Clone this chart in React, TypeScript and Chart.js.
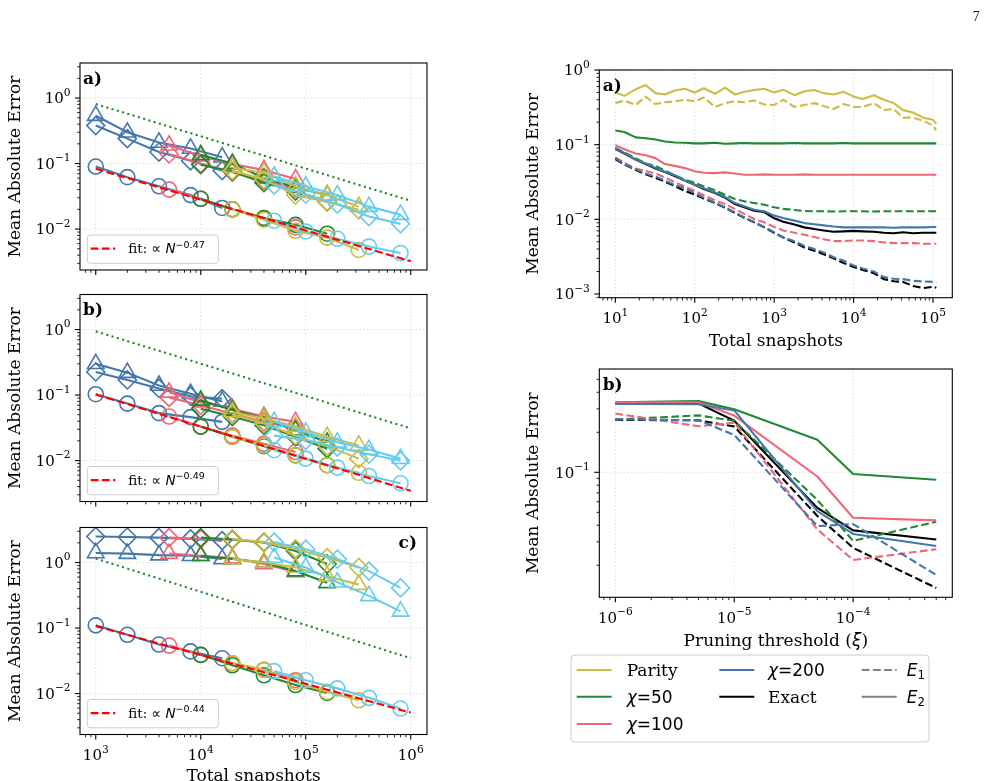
import React, { useEffect, useRef } from "react";
import { Chart, registerables } from "chart.js";

Chart.register(...registerables);

const W = 989;
const H = 781;
const SERIF = '"DejaVu Serif", serif';
const SANS = '"DejaVu Sans", sans-serif';

const BLUE = "#4477AA";
const PINK = "#EE6677";
const GREEN = "#228833";
const YELLOW = "#CCBB44";
const CYAN = "#66CCEE";
const BLACK = "#000000";
const GREY = "#808080";
const FIT_RED = "#FF0000";
const REF_GREEN = "#1E8A2A";

// ---------- Left column: error vs. total snapshots ----------
const nBlue = [1000, 2000, 4000, 8000, 16000];
const nPink = [5000, 10000, 20000, 40000, 80000];
const nGreen = [10000, 20000, 40000, 80000, 160000];
const nYellow = [20000, 40000, 80000, 160000, 320000];
const nCyan = [50000, 100000, 200000, 400000, 800000];
const refN = [1000, 1000000];

// panel a
const aBlueCirc = [0.09, 0.062, 0.045, 0.033, 0.021];
const aBlueTri = [0.54, 0.3, 0.21, 0.17, 0.125];
const aBlueDia = [0.38, 0.24, 0.15, 0.11, 0.078];
const aPinkCirc = [0.04, 0.029, 0.02, 0.0147, 0.0106];
const aPinkTri = [0.19, 0.13, 0.098, 0.08, 0.058];
const aPinkDia = [0.14, 0.1, 0.074, 0.055, 0.042];
const aGreenCirc = [0.029, 0.02, 0.0147, 0.0116, 0.0085];
const aGreenTri = [0.136, 0.1, 0.06, 0.043, 0.033];
const aGreenDia = [0.096, 0.075, 0.051, 0.038, 0.026];
const aYellowCirc = [0.02, 0.0139, 0.0094, 0.0074, 0.0048];
const aYellowTri = [0.087, 0.072, 0.045, 0.033, 0.022];
const aYellowDia = [0.078, 0.057, 0.033, 0.026, 0.0197];
const aCyanCirc = [0.0134, 0.0092, 0.0071, 0.0054, 0.0043];
const aCyanTri = [0.064, 0.045, 0.033, 0.022, 0.0166];
const aCyanDia = [0.047, 0.034, 0.024, 0.0155, 0.012];
const aRef = [0.81, 0.027];
const aFitStart = 0.083;
const aFitExp = -0.47;

// panel b
const bBlueCirc = [0.103, 0.074, 0.053, 0.046, 0.039];
const bBlueTri = [0.3, 0.22, 0.14, 0.105, 0.08];
const bBlueDia = [0.225, 0.17, 0.126, 0.096, 0.088];
const bPinkCirc = [0.047, 0.033, 0.024, 0.018, 0.0135];
const bPinkTri = [0.11, 0.078, 0.062, 0.047, 0.039];
const bPinkDia = [0.092, 0.07, 0.052, 0.039, 0.031];
const bGreenCirc = [0.033, 0.023, 0.0166, 0.012, 0.0085];
const bGreenTri = [0.083, 0.059, 0.044, 0.029, 0.019];
const bGreenDia = [0.062, 0.047, 0.0346, 0.023, 0.0152];
const bYellowCirc = [0.023, 0.017, 0.012, 0.0085, 0.0065];
const bYellowTri = [0.055, 0.044, 0.033, 0.023, 0.017];
const bYellowDia = [0.051, 0.037, 0.024, 0.0166, 0.0107];
const bCyanCirc = [0.0144, 0.0107, 0.0078, 0.0058, 0.0045];
const bCyanTri = [0.039, 0.027, 0.019, 0.0147, 0.0107];
const bCyanDia = [0.024, 0.0204, 0.016, 0.0125, 0.0099];
const bRef = [0.94, 0.031];
const bFitStart = 0.102;
const bFitExp = -0.49;

// panel c
const cBlueCirc = [0.11, 0.079, 0.056, 0.044, 0.0346];
const cBlueTri = [1.4, 1.37, 1.3, 1.27, 1.13];
const cBlueDia = [2.5, 2.45, 2.4, 2.3, 2.16];
const cPinkCirc = [0.054, 0.039, 0.029, 0.023, 0.016];
const cPinkTri = [1.37, 1.27, 1.17, 0.95, 0.72];
const cPinkDia = [2.4, 2.3, 2.25, 2.03, 1.6];
const cGreenCirc = [0.039, 0.027, 0.019, 0.0135, 0.0102];
const cGreenTri = [1.27, 1.13, 1.0, 0.74, 0.49];
const cGreenDia = [2.4, 2.25, 2.03, 1.5, 0.95];
const cYellowCirc = [0.029, 0.023, 0.015, 0.0106, 0.0079];
const cYellowTri = [1.13, 1.0, 0.84, 0.62, 0.46];
const cYellowDia = [2.3, 2.05, 1.6, 1.19, 0.84];
const cCyanCirc = [0.022, 0.016, 0.012, 0.0086, 0.0059];
const cCyanTri = [1.19, 0.84, 0.5, 0.31, 0.18];
const cCyanDia = [2.05, 1.6, 1.13, 0.74, 0.41];
const cRef = [1.15, 0.0346];
const cFitStart = 0.107;
const cFitExp = -0.44;

// ---------- Right column a: error vs. total snapshots per method ----------
const snapshots = [
  10, 13, 18, 24, 32, 42, 56, 75, 100, 130, 180, 240, 320, 420, 560, 750,
  1000, 1300, 1800, 2400, 3200, 4200, 5600, 7500, 10000, 13000, 18000, 24000,
  32000, 42000, 56000, 75000, 100000, 110000,
];
const parityE2 = [
  0.5, 0.45, 0.55, 0.63, 0.49, 0.47, 0.53, 0.56, 0.5, 0.57, 0.48, 0.58, 0.47, 0.51, 0.54, 0.56,
  0.5, 0.545, 0.46, 0.52, 0.54, 0.49, 0.47, 0.51, 0.44, 0.41, 0.46, 0.4, 0.36, 0.29, 0.27, 0.23,
  0.215, 0.19,
];
const parityE1 = [
  0.36, 0.39, 0.34, 0.44, 0.35, 0.37, 0.38, 0.4, 0.38, 0.43, 0.32, 0.36, 0.38, 0.37, 0.39, 0.345,
  0.34, 0.4, 0.32, 0.34, 0.36, 0.33, 0.3, 0.35, 0.32, 0.32, 0.36, 0.29, 0.3, 0.23, 0.23, 0.21,
  0.18, 0.155,
];
const chi50E2 = [
  0.155, 0.148, 0.125, 0.122, 0.117, 0.11, 0.107, 0.106, 0.104, 0.104, 0.106, 0.103, 0.104, 0.105, 0.104, 0.104,
  0.104, 0.104, 0.105, 0.104, 0.104, 0.104, 0.104, 0.105, 0.104, 0.104, 0.104, 0.104, 0.104, 0.104, 0.104, 0.104,
  0.104, 0.104,
];
const chi50E1 = [
  0.09, 0.079, 0.066, 0.056, 0.052, 0.045, 0.039, 0.034, 0.031, 0.0276, 0.0245, 0.0213, 0.0187, 0.0174, 0.0165, 0.0157,
  0.0145, 0.0138, 0.0133, 0.0129, 0.0128, 0.0128, 0.0127, 0.0128, 0.0128, 0.0128, 0.0127, 0.0128, 0.0128, 0.0128, 0.0128, 0.0128,
  0.0128, 0.0128,
];
const chi100E2 = [
  0.098, 0.087, 0.076, 0.072, 0.066, 0.055, 0.052, 0.0485, 0.044, 0.042, 0.0415, 0.0425, 0.041, 0.0395, 0.0395, 0.04,
  0.0395, 0.0395, 0.0395, 0.04, 0.0395, 0.0395, 0.0395, 0.0395, 0.0395, 0.0395, 0.0395, 0.0395, 0.0395, 0.0395, 0.0395, 0.0395,
  0.0395, 0.0395,
];
const chi100E1 = [
  0.0675, 0.057, 0.048, 0.0445, 0.041, 0.0365, 0.0315, 0.0275, 0.024, 0.021, 0.018, 0.016, 0.0138, 0.0118, 0.0101, 0.0091,
  0.0079, 0.0071, 0.0066, 0.0062, 0.0058, 0.0054, 0.0051, 0.0051, 0.0052, 0.0052, 0.0051, 0.0049, 0.0048, 0.0048, 0.0048, 0.0047,
  0.0047, 0.0047,
];
const chi200E2 = [
  0.09, 0.077, 0.063, 0.056, 0.049, 0.043, 0.039, 0.033, 0.029, 0.026, 0.0228, 0.02, 0.0165, 0.015, 0.0134, 0.0128,
  0.0112, 0.0104, 0.0096, 0.0089, 0.0086, 0.0083, 0.008, 0.0078, 0.0078, 0.0078, 0.0078, 0.0078, 0.0077, 0.0078, 0.0078, 0.0078,
  0.0079, 0.0079,
];
const chi200E1 = [
  0.066, 0.055, 0.047, 0.041, 0.0375, 0.033, 0.029, 0.026, 0.0225, 0.0195, 0.0168, 0.0145, 0.0124, 0.0106, 0.0092, 0.0079,
  0.0067, 0.0057, 0.0051, 0.0044, 0.004, 0.0036, 0.0031, 0.0028, 0.0024, 0.0022, 0.002, 0.00168, 0.0016, 0.00158, 0.0015, 0.00147,
  0.00145, 0.00143,
];
const exactE2 = [
  0.088, 0.076, 0.063, 0.055, 0.048, 0.043, 0.038, 0.033, 0.029, 0.0255, 0.0225, 0.0195, 0.016, 0.0145, 0.013, 0.0125,
  0.0103, 0.0093, 0.0085, 0.0078, 0.0074, 0.0071, 0.0068, 0.0069, 0.007, 0.0069, 0.0068, 0.0066, 0.0065, 0.0067, 0.0065, 0.0066,
  0.0066, 0.0066,
];
const exactE1 = [
  0.064, 0.054, 0.046, 0.04, 0.036, 0.032, 0.028, 0.024, 0.0215, 0.019, 0.0165, 0.0143, 0.0122, 0.0105, 0.0091, 0.0078,
  0.0066, 0.0057, 0.0049, 0.0042, 0.0038, 0.0034, 0.003, 0.0026, 0.0023, 0.0021, 0.0019, 0.00158, 0.00148, 0.00145, 0.00128, 0.0012,
  0.00125, 0.00121,
];

// ---------- Right column b: error vs. pruning threshold ----------
const thresholds = [1e-6, 5e-6, 1e-5, 5e-5, 1e-4, 5e-4];
const pruneChi50E2 = [0.336, 0.343, 0.298, 0.176, 0.097, 0.088];
const pruneChi100E2 = [0.336, 0.336, 0.267, 0.093, 0.0455, 0.0435];
const pruneChi200E2 = [0.326, 0.325, 0.292, 0.051, 0.0344, 0.0279];
const pruneExactE2 = [0.33, 0.33, 0.244, 0.054, 0.0366, 0.0312];
const pruneChi50E1 = [0.249, 0.268, 0.244, 0.062, 0.0305, 0.0425];
const pruneChi100E1 = [0.277, 0.222, 0.236, 0.0372, 0.0219, 0.0264];
const pruneChi200E1 = [0.251, 0.246, 0.191, 0.0394, 0.0408, 0.0169];
const pruneExactE1 = [0.248, 0.246, 0.221, 0.047, 0.027, 0.0135];

// ---------- drawing helpers ----------
type Run = { t: string; f: string; dy?: number };
type Area = { left: number; top: number; right: number; bottom: number };

function runsWidth(ctx: CanvasRenderingContext2D, runs: Run[]) {
  let w = 0;
  for (const r of runs) {
    ctx.font = r.f;
    w += ctx.measureText(r.t).width;
  }
  return w;
}

function drawRuns(ctx: CanvasRenderingContext2D, runs: Run[], x: number, y: number, align: "left" | "center" | "right") {
  const w = runsWidth(ctx, runs);
  let cx = align === "left" ? x : align === "center" ? x - w / 2 : x - w;
  ctx.textAlign = "left";
  ctx.textBaseline = "alphabetic";
  for (const r of runs) {
    ctx.font = r.f;
    ctx.fillText(r.t, cx, y + (r.dy || 0));
    cx += ctx.measureText(r.t).width;
  }
}

const TICK_FONT = `15px ${SERIF}`;
const SUP_FONT = `10.6px ${SERIF}`;
function powerRuns(e: number): Run[] {
  return [
    { t: "10", f: TICK_FONT },
    { t: e < 0 ? "\u2212" + String(-e) : String(e), f: SUP_FONT, dy: -7.5 },
  ];
}

function logTicks(min: number, max: number) {
  const major: { v: number; e: number }[] = [];
  const minor: number[] = [];
  const e0 = Math.floor(Math.log10(min));
  const e1 = Math.ceil(Math.log10(max));
  for (let e = e0; e <= e1; e++) {
    for (let m = 1; m < 10; m++) {
      const v = m * Math.pow(10, e);
      if (v < min * 0.99999 || v > max * 1.00001) continue;
      if (m === 1) major.push({ v, e });
      else minor.push(v);
    }
  }
  return { major, minor };
}

function seg(ctx: CanvasRenderingContext2D, x1: number, y1: number, x2: number, y2: number) {
  ctx.beginPath();
  ctx.moveTo(x1, y1);
  ctx.lineTo(x2, y2);
  ctx.stroke();
}

function roundBox(ctx: CanvasRenderingContext2D, x: number, y: number, w: number, h: number, r: number) {
  ctx.beginPath();
  ctx.moveTo(x + r, y);
  ctx.lineTo(x + w - r, y);
  ctx.arcTo(x + w, y, x + w, y + r, r);
  ctx.lineTo(x + w, y + h - r);
  ctx.arcTo(x + w, y + h, x + w - r, y + h, r);
  ctx.lineTo(x + r, y + h);
  ctx.arcTo(x, y + h, x, y + h - r, r);
  ctx.lineTo(x, y + r);
  ctx.arcTo(x, y, x + r, y, r);
  ctx.closePath();
  ctx.fillStyle = "rgba(255,255,255,0.85)";
  ctx.fill();
  ctx.strokeStyle = "#cccccc";
  ctx.lineWidth = 1;
  ctx.setLineDash([]);
  ctx.stroke();
}

const DASH = [7.8, 3.4];

interface Spec {
  area: Area;
  xMin: number;
  xMax: number;
  yMin: number;
  yMax: number;
  xTickLabels: boolean;
  xTitle?: Run[];
  xTitleBaseline?: number;
  yTitleX: number;
  tag: string;
  tagX: number;
  tagAlign: "left" | "right";
  datasets: any[];
  overlay?: (ctx: CanvasRenderingContext2D, area: Area) => void;
}

function axesPlugin(spec: Spec) {
  return {
    id: "axesDecor",
    beforeDatasetsDraw(chart: any) {
      const ctx: CanvasRenderingContext2D = chart.ctx;
      const xs = chart.scales.x;
      const ys = chart.scales.y;
      const a = chart.chartArea;
      ctx.save();
      ctx.strokeStyle = "rgba(0,0,0,0.16)";
      ctx.lineWidth = 1;
      ctx.setLineDash([1.2, 2.3]);
      for (const t of logTicks(spec.xMin, spec.xMax).major) {
        const px = xs.getPixelForValue(t.v);
        seg(ctx, px, a.top, px, a.bottom);
      }
      for (const t of logTicks(spec.yMin, spec.yMax).major) {
        const py = ys.getPixelForValue(t.v);
        seg(ctx, a.left, py, a.right, py);
      }
      ctx.restore();
    },
    afterDraw(chart: any) {
      const ctx: CanvasRenderingContext2D = chart.ctx;
      const xs = chart.scales.x;
      const ys = chart.scales.y;
      const a = chart.chartArea;
      ctx.save();
      ctx.setLineDash([]);
      ctx.strokeStyle = "#000";
      ctx.lineWidth = 1.1;
      ctx.strokeRect(a.left, a.top, a.right - a.left, a.bottom - a.top);

      const xt = logTicks(spec.xMin, spec.xMax);
      const yt = logTicks(spec.yMin, spec.yMax);
      ctx.lineWidth = 1.1;
      for (const t of xt.major) {
        const px = xs.getPixelForValue(t.v);
        seg(ctx, px, a.bottom, px, a.bottom + 5);
      }
      for (const t of yt.major) {
        const py = ys.getPixelForValue(t.v);
        seg(ctx, a.left, py, a.left - 5, py);
      }
      ctx.lineWidth = 0.85;
      for (const v of xt.minor) {
        const px = xs.getPixelForValue(v);
        seg(ctx, px, a.bottom, px, a.bottom + 2.8);
      }
      for (const v of yt.minor) {
        const py = ys.getPixelForValue(v);
        seg(ctx, a.left, py, a.left - 2.8, py);
      }

      ctx.fillStyle = "#000";
      for (const t of yt.major) {
        const py = ys.getPixelForValue(t.v);
        drawRuns(ctx, powerRuns(t.e), a.left - 9.5, py + 5.4, "right");
      }
      if (spec.xTickLabels) {
        for (const t of xt.major) {
          const px = xs.getPixelForValue(t.v);
          drawRuns(ctx, powerRuns(t.e), px, a.bottom + 25.5, "center");
        }
      }

      // y title
      ctx.save();
      ctx.translate(spec.yTitleX, (a.top + a.bottom) / 2);
      ctx.rotate(-Math.PI / 2);
      ctx.font = `17px ${SERIF}`;
      ctx.textAlign = "center";
      ctx.textBaseline = "alphabetic";
      ctx.fillText("Mean Absolute Error", 0, 0);
      ctx.restore();

      if (spec.xTitle && spec.xTitleBaseline !== undefined) {
        drawRuns(ctx, spec.xTitle, (a.left + a.right) / 2, spec.xTitleBaseline, "center");
      }

      ctx.font = `bold 17px ${SERIF}`;
      ctx.textAlign = spec.tagAlign;
      ctx.textBaseline = "alphabetic";
      ctx.fillText(spec.tag, spec.tagX, a.top + 20.5);

      if (spec.overlay) spec.overlay(ctx, a);
      ctx.restore();
    },
  };
}

// ---------- dataset builders ----------
const MARKER_RADIUS: Record<string, number> = { circle: 7.5, triangle: 9.5, rectRot: 9 };

function sweep(n: number[], v: number[], color: string, marker: string) {
  return {
    data: n.map((x, i) => ({ x, y: v[i] })),
    borderColor: color,
    borderWidth: 2.1,
    pointStyle: marker,
    pointRadius: MARKER_RADIUS[marker],
    pointBorderColor: color,
    pointBackgroundColor: "rgba(0,0,0,0)",
    pointBorderWidth: 1.6,
  };
}

function scalingDatasets(
  groups: { n: number[]; circ: number[]; tri: number[]; dia: number[]; color: string }[],
  ref: number[],
  fitStart: number,
  fitExp: number
) {
  const list: any[] = [];
  list.push({
    data: refN.map((x, i) => ({ x, y: ref[i] })),
    borderColor: REF_GREEN,
    borderWidth: 2.1,
    borderDash: [2.1, 3.4],
    borderCapStyle: "butt",
    pointRadius: 0,
  });
  for (const g of groups) {
    list.push(sweep(g.n, g.circ, g.color, "circle"));
    list.push(sweep(g.n, g.tri, g.color, "triangle"));
    list.push(sweep(g.n, g.dia, g.color, "rectRot"));
  }
  list.push({
    data: refN.map((x) => ({ x, y: fitStart * Math.pow(x / refN[0], fitExp) })),
    borderColor: FIT_RED,
    borderWidth: 2.1,
    borderDash: DASH,
    pointRadius: 0,
  });
  // first dataset is painted last in Chart.js, so reverse to keep plotting order
  return list.reverse();
}

function curve(n: number[], v: number[], color: string, dashed: boolean) {
  return {
    data: n.map((x, i) => ({ x, y: v[i] })),
    borderColor: color,
    borderWidth: 2.1,
    borderDash: dashed ? DASH : [],
    borderJoinStyle: "round",
    pointRadius: 0,
  };
}

function fitLegend(exp: number) {
  return (ctx: CanvasRenderingContext2D, a: Area) => {
    const x0 = a.left + 7.3;
    const h = 28.3;
    const y0 = a.bottom - 6.7 - h;
    roundBox(ctx, x0, y0, 131, h, 3);
    const cy = y0 + h / 2 - 0.5;
    ctx.strokeStyle = FIT_RED;
    ctx.lineWidth = 2.1;
    ctx.setLineDash(DASH);
    seg(ctx, x0 + 3.4, cy, x0 + 28, cy);
    ctx.setLineDash([]);
    ctx.fillStyle = "#000";
    drawRuns(
      ctx,
      [
        { t: "fit: ", f: `13.5px ${SERIF}` },
        { t: "\u221D ", f: `13.5px ${SANS}` },
        { t: "N", f: `italic 13.5px ${SANS}` },
        { t: "\u2212" + String(Math.abs(exp)), f: `9.5px ${SANS}`, dy: -5.5 },
      ],
      x0 + 41,
      cy + 4.5,
      "left"
    );
  };
}

const LEFT_X_MIN = Math.pow(10, 2.85);
const LEFT_X_MAX = Math.pow(10, 6.155);
const LEFT_Y_MIN = Math.pow(10, -2.625);
const LEFT_Y_MAX = Math.pow(10, 0.535);

const leftA: Spec = {
  area: { left: 80, top: 63, right: 427, bottom: 270 },
  xMin: LEFT_X_MIN, xMax: LEFT_X_MAX, yMin: LEFT_Y_MIN, yMax: LEFT_Y_MAX,
  xTickLabels: false,
  yTitleX: 19.5,
  tag: "a)", tagX: 83, tagAlign: "left",
  datasets: scalingDatasets(
    [
      { n: nBlue, circ: aBlueCirc, tri: aBlueTri, dia: aBlueDia, color: BLUE },
      { n: nPink, circ: aPinkCirc, tri: aPinkTri, dia: aPinkDia, color: PINK },
      { n: nGreen, circ: aGreenCirc, tri: aGreenTri, dia: aGreenDia, color: GREEN },
      { n: nYellow, circ: aYellowCirc, tri: aYellowTri, dia: aYellowDia, color: YELLOW },
      { n: nCyan, circ: aCyanCirc, tri: aCyanTri, dia: aCyanDia, color: CYAN },
    ],
    aRef, aFitStart, aFitExp
  ),
  overlay: fitLegend(aFitExp),
};

const leftB: Spec = {
  area: { left: 80, top: 294.5, right: 427, bottom: 501.5 },
  xMin: LEFT_X_MIN, xMax: LEFT_X_MAX, yMin: LEFT_Y_MIN, yMax: LEFT_Y_MAX,
  xTickLabels: false,
  yTitleX: 19.5,
  tag: "b)", tagX: 83, tagAlign: "left",
  datasets: scalingDatasets(
    [
      { n: nBlue, circ: bBlueCirc, tri: bBlueTri, dia: bBlueDia, color: BLUE },
      { n: nPink, circ: bPinkCirc, tri: bPinkTri, dia: bPinkDia, color: PINK },
      { n: nGreen, circ: bGreenCirc, tri: bGreenTri, dia: bGreenDia, color: GREEN },
      { n: nYellow, circ: bYellowCirc, tri: bYellowTri, dia: bYellowDia, color: YELLOW },
      { n: nCyan, circ: bCyanCirc, tri: bCyanTri, dia: bCyanDia, color: CYAN },
    ],
    bRef, bFitStart, bFitExp
  ),
  overlay: fitLegend(bFitExp),
};

const leftC: Spec = {
  area: { left: 80, top: 527.5, right: 427, bottom: 734.5 },
  xMin: LEFT_X_MIN, xMax: LEFT_X_MAX, yMin: LEFT_Y_MIN, yMax: LEFT_Y_MAX,
  xTickLabels: true,
  xTitle: [{ t: "Total snapshots", f: `17px ${SERIF}` }],
  xTitleBaseline: 780.5,
  yTitleX: 19.5,
  tag: "c)", tagX: 417, tagAlign: "right",
  datasets: scalingDatasets(
    [
      { n: nBlue, circ: cBlueCirc, tri: cBlueTri, dia: cBlueDia, color: BLUE },
      { n: nPink, circ: cPinkCirc, tri: cPinkTri, dia: cPinkDia, color: PINK },
      { n: nGreen, circ: cGreenCirc, tri: cGreenTri, dia: cGreenDia, color: GREEN },
      { n: nYellow, circ: cYellowCirc, tri: cYellowTri, dia: cYellowDia, color: YELLOW },
      { n: nCyan, circ: cCyanCirc, tri: cCyanTri, dia: cCyanDia, color: CYAN },
    ],
    cRef, cFitStart, cFitExp
  ),
  overlay: fitLegend(cFitExp),
};

const rightA: Spec = {
  area: { left: 599.3, top: 70, right: 952.3, bottom: 297.7 },
  xMin: Math.pow(10, 0.798), xMax: Math.pow(10, 5.243),
  yMin: Math.pow(10, -3.05), yMax: 1,
  xTickLabels: true,
  xTitle: [{ t: "Total snapshots", f: `17px ${SERIF}` }],
  xTitleBaseline: 345.5,
  yTitleX: 538,
  tag: "a)", tagX: 602.7, tagAlign: "left",
  datasets: [
    curve(snapshots, exactE1, BLACK, true),
    curve(snapshots, exactE2, BLACK, false),
    curve(snapshots, parityE1, YELLOW, true),
    curve(snapshots, parityE2, YELLOW, false),
    curve(snapshots, chi50E1, GREEN, true),
    curve(snapshots, chi50E2, GREEN, false),
    curve(snapshots, chi100E1, PINK, true),
    curve(snapshots, chi100E2, PINK, false),
    curve(snapshots, chi200E1, BLUE, true),
    curve(snapshots, chi200E2, BLUE, false),
  ].reverse(),
  overlay: (ctx) => {
    ctx.fillStyle = "#111";
    ctx.font = `14px "Liberation Serif", serif`;
    ctx.textAlign = "center";
    ctx.textBaseline = "alphabetic";
    ctx.fillText("7", 976.3, 21);
  },
};

function methodLegend(ctx: CanvasRenderingContext2D) {
  roundBox(ctx, 571, 655, 358, 87, 4);
  const rows = [670, 696.7, 724];
  const F = `17px ${SERIF}`;
  const M = `17px ${SANS}`;
  const MI = `italic 17px ${SANS}`;
  const entries: { col: number; row: number; color: string; dashed: boolean; runs: Run[] }[] = [
    { col: 0, row: 0, color: YELLOW, dashed: false, runs: [{ t: "Parity", f: F }] },
    { col: 0, row: 1, color: GREEN, dashed: false, runs: [{ t: "\u03C7", f: MI }, { t: "=50", f: M }] },
    { col: 0, row: 2, color: PINK, dashed: false, runs: [{ t: "\u03C7", f: MI }, { t: "=100", f: M }] },
    { col: 1, row: 0, color: BLUE, dashed: false, runs: [{ t: "\u03C7", f: MI }, { t: "=200", f: M }] },
    { col: 1, row: 1, color: BLACK, dashed: false, runs: [{ t: "Exact", f: F }] },
    { col: 2, row: 0, color: GREY, dashed: true, runs: [{ t: "E", f: MI }, { t: "1", f: `11.9px ${SANS}`, dy: 3.5 }] },
    { col: 2, row: 1, color: GREY, dashed: false, runs: [{ t: "E", f: MI }, { t: "2", f: `11.9px ${SANS}`, dy: 3.5 }] },
  ];
  const lineX = [576.7, 719.3, 861.7];
  const textX = [626.7, 768, 906.7];
  for (const e of entries) {
    const y = rows[e.row];
    ctx.strokeStyle = e.color;
    ctx.lineWidth = 2.1;
    ctx.setLineDash(e.dashed ? DASH : []);
    seg(ctx, lineX[e.col], y, lineX[e.col] + 35, y);
    ctx.setLineDash([]);
    ctx.fillStyle = "#000";
    drawRuns(ctx, e.runs, textX[e.col], y + 5.8, "left");
  }
}

const rightB: Spec = {
  area: { left: 599.3, top: 369, right: 952.3, bottom: 597.3 },
  xMin: Math.pow(10, -6.135), xMax: Math.pow(10, -3.166),
  yMin: Math.pow(10, -1.94), yMax: Math.pow(10, -0.223),
  xTickLabels: true,
  xTitle: [
    { t: "Pruning threshold (", f: `17px ${SERIF}` },
    { t: "\u03BE", f: `italic 17px ${SANS}` },
    { t: ")", f: `17px ${SERIF}` },
  ],
  xTitleBaseline: 646,
  yTitleX: 538,
  tag: "b)", tagX: 602.7, tagAlign: "left",
  datasets: [
    curve(thresholds, pruneExactE1, BLACK, true),
    curve(thresholds, pruneExactE2, BLACK, false),
    curve(thresholds, pruneChi50E1, GREEN, true),
    curve(thresholds, pruneChi50E2, GREEN, false),
    curve(thresholds, pruneChi100E1, PINK, true),
    curve(thresholds, pruneChi100E2, PINK, false),
    curve(thresholds, pruneChi200E1, BLUE, true),
    curve(thresholds, pruneChi200E2, BLUE, false),
  ].reverse(),
  overlay: (ctx) => methodLegend(ctx),
};

const SPECS = [leftA, leftB, leftC, rightA, rightB];

function Panel({ spec }: { spec: Spec }) {
  const ref = useRef<HTMLCanvasElement>(null);
  useEffect(() => {
    const canvas = ref.current;
    if (!canvas) return;
    const a = spec.area;
    const chart = new Chart(canvas, {
      type: "line",
      data: { datasets: spec.datasets },
      options: {
        animation: false,
        responsive: false,
        devicePixelRatio: 1,
        events: [],
        layout: { padding: { left: a.left, top: a.top, right: W - a.right, bottom: H - a.bottom } },
        plugins: { legend: { display: false }, tooltip: { enabled: false } },
        elements: { line: { tension: 0 } },
        scales: {
          x: { type: "logarithmic", min: spec.xMin, max: spec.xMax, display: false },
          y: { type: "logarithmic", min: spec.yMin, max: spec.yMax, display: false },
        },
      } as any,
      plugins: [axesPlugin(spec)],
    });
    return () => chart.destroy();
  }, [spec]);
  return (
    <canvas
      ref={ref}
      width={W}
      height={H}
      style={{ position: "absolute", left: 0, top: 0, width: W, height: H }}
    />
  );
}

export default function App() {
  return (
    <div style={{ position: "absolute", left: 0, top: 0, width: W, height: H, background: "#ffffff", overflow: "hidden" }}>
      {SPECS.map((s, i) => (
        <Panel key={i} spec={s} />
      ))}
    </div>
  );
}
